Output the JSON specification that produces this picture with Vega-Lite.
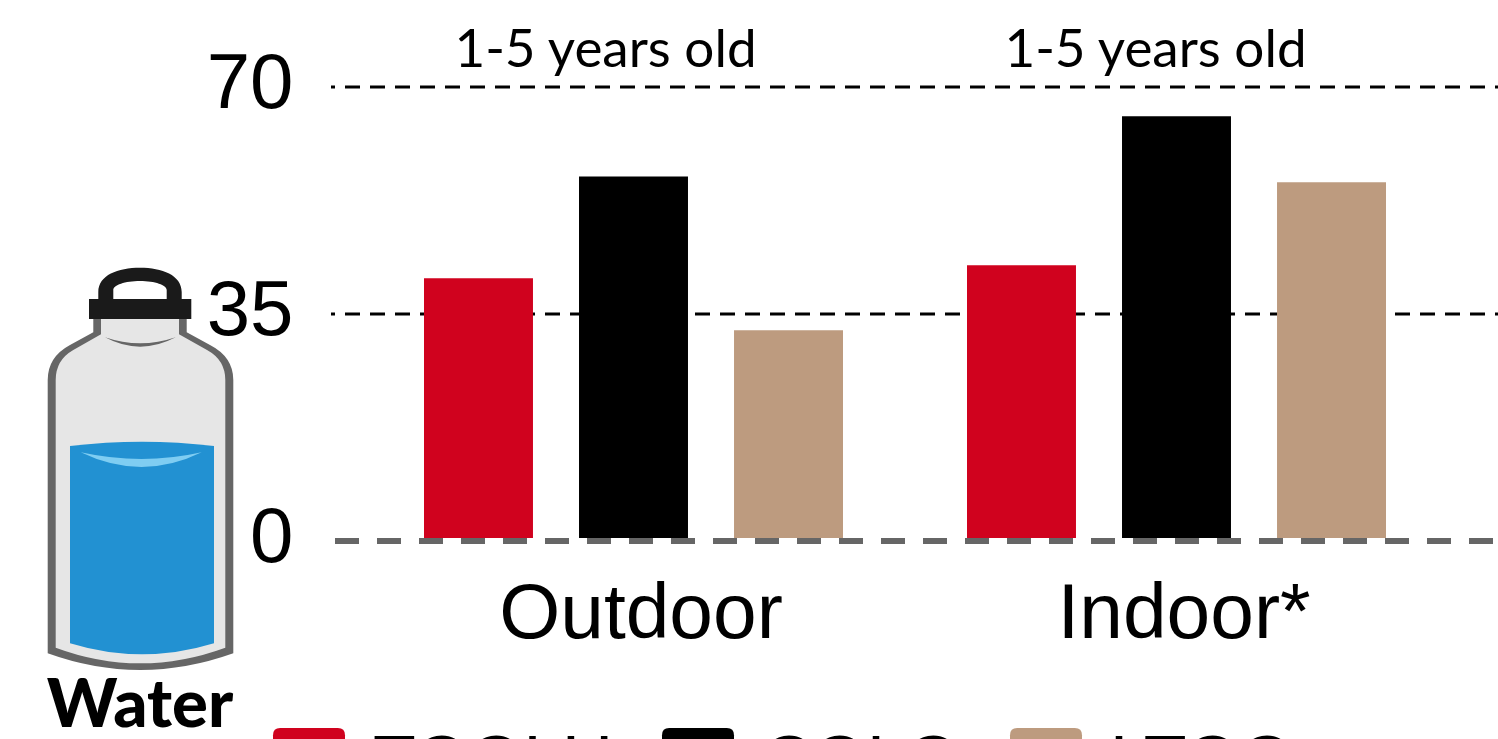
{
"$schema":"https://vega.github.io/schema/vega-lite/v6.json",
"width":1167,"height":454,
"padding":{"left":331,"top":87,"right":0,"bottom":198},
"autosize":{"type":"none"},
"background":"white",
"config":{"view":{"stroke":null}},
"datasets":{
"bars":[
{"setting":"Outdoor","group":"TOOLU","value":40.5},
{"setting":"Outdoor","group":"COLO","value":56.2},
{"setting":"Outdoor","group":"LTOO","value":32.5},
{"setting":"Indoor*","group":"TOOLU","value":42.5},
{"setting":"Indoor*","group":"COLO","value":65.5},
{"setting":"Indoor*","group":"LTOO","value":55.3}
],
"icon":[{"icon":"Water"}]
},
"layer":[
{"layer":[
{"data":{"values":[{"tick":35},{"tick":70}]},
"mark":{"type":"rule","color":"#000000","strokeWidth":3,"strokeDash":[15,10],"strokeDashOffset":12},
"encoding":{"y":{"field":"tick","type":"quantitative","title":null}}},
{"data":{"name":"bars"},
"mark":{"type":"bar","clip":false},
"encoding":{
"x":{"field":"setting","type":"nominal","sort":["Outdoor","Indoor*"],"title":null,
"scale":{"domain":["Outdoor","Indoor*"],"range":[31,1117],"paddingInner":0,"paddingOuter":0},
"axis":{"domain":false,"ticks":false,"grid":false,"labelAngle":0,"labelFont":"Liberation Sans","labelFontSize":78.5,"labelColor":"#000","labelPadding":34,"labelOffset":7.5,"labelLimit":500}},
"xOffset":{"field":"group","type":"nominal","sort":["TOOLU","COLO","LTOO"],
"scale":{"domain":["TOOLU","COLO","LTOO"],"range":[62,481],"paddingInner":0.297,"paddingOuter":0}},
"y":{"field":"value","type":"quantitative","title":null,
"scale":{"domain":[0,70],"nice":false},
"axis":{"values":[0,35,70],"domain":false,"ticks":false,"grid":false,
"labelFont":"Liberation Sans","labelFontSize":78,"labelColor":"#000","labelPadding":38,"labelOffset":-3}},
"y2":{"datum":0.46},
"color":{"field":"group","type":"nominal",
"scale":{"domain":["TOOLU","COLO","LTOO"],"range":["#D0021E","#000000","#BD9B7F"]},
"legend":{"title":null,"orient":"none","legendX":-58,"legendY":641,"direction":"horizontal","columns":3,
"symbolType":"M-0.8,-1H0.8Q1,-1 1,-0.8V0.8Q1,1 0.8,1H-0.8Q-1,1 -1,0.8V-0.8Q-1,-1 -0.8,-1Z",
"symbolSize":5184,"symbolStrokeWidth":0,"labelFont":"Liberation Sans","labelFontSize":70,"labelColor":"#000","labelOffset":28,"columnPadding":49,"labelLimit":500}}
}},
{"data":{"values":[{"line":"zero"}]},
"mark":{"type":"rule","color":"#666666","strokeWidth":6,"strokeDash":[24,18],"strokeDashOffset":37},
"encoding":{"y":{"datum":0}}},
{"data":{"values":[{"setting":"Outdoor","label":"1-5 years old"}]},
"mark":{"type":"text","font":"Lato","fontSize":53,"color":"#000","dx":-28,"baseline":"alphabetic"},
"encoding":{"x":{"field":"setting","type":"nominal","sort":["Outdoor","Indoor*"]},"y":{"datum":73.1},"text":{"field":"label"}}},
{"data":{"values":[{"setting":"Indoor*","label":"1-5 years old"}]},
"mark":{"type":"text","font":"Lato","fontSize":53,"color":"#000","dx":-21,"baseline":"alphabetic"},
"encoding":{"x":{"field":"setting","type":"nominal","sort":["Outdoor","Indoor*"]},"y":{"datum":73.1},"text":{"field":"label"}}}
]},
{"data":{"name":"icon"},
"encoding":{
"x":{"field":"icon","type":"nominal","scale":{"domain":["Water"],"range":[-191,-191]},"axis":null},
"y":{"field":"icon","type":"nominal","scale":{"domain":["Water"],"range":[383,383]},"axis":null}},
"layer":[
{"mark":{"type":"point","filled":true,"opacity":1,"size":4,"color":"#666666","strokeWidth":0,"clip":false,
"shape":"M-46.7,-151.7V-137.7L-70,-125Q-92.3,-113 -92.3,-90V183.3Q0,216.7 93.3,183.3V-90Q93.3,-113 70,-125L46.7,-137.7V-151.7Z"}},
{"mark":{"type":"point","filled":true,"opacity":1,"size":4,"color":"#E6E6E6","strokeWidth":0,"clip":false,
"shape":"M-39,-151.7V-135.7L-66.7,-120Q-84.3,-110 -84.3,-90V177.7Q0,209 85.3,177.7V-90Q85.3,-110 67,-120L39,-135.7V-151.7Z"}},
{"mark":{"type":"point","filled":true,"opacity":1,"size":4,"color":"#666666","strokeWidth":0,"clip":false,
"shape":"M-35,-132.7Q0,-113.9 35.7,-132.7Q0,-120.7 -35,-132.7Z"}},
{"mark":{"type":"point","filled":true,"opacity":1,"size":4,"color":"#2291D2","strokeWidth":0,"clip":false,
"shape":"M-70,-24Q2,-32.7 74,-24V173.3Q2,195.3 -70,173.3Z"}},
{"mark":{"type":"point","filled":true,"opacity":1,"size":4,"color":"#7FCDF2","strokeWidth":0,"clip":false,
"shape":"M-59.3,-17.7Q1.7,11.7 61.7,-17.7Q1.7,-4.3 -59.3,-17.7Z"}},
{"mark":{"type":"point","filled":true,"opacity":1,"size":4,"color":"#1A1A1A","strokeWidth":0,"clip":false,
"shape":"M-51,-171H-41.7V-178C-41.7,-195 -22,-202.3 0,-202.3C22,-202.3 41.7,-195 41.7,-178V-171H51.3V-151H-51ZM-26.7,-171H26.7V-180C26.7,-185 15,-189 0,-189C-15,-189 -26.7,-185 -26.7,-180Z"}},
{"mark":{"type":"text","font":"Lato","fontWeight":900,"fontSize":67,"color":"#000","dy":257,"baseline":"alphabetic"},
"encoding":{"text":{"field":"icon"}}}
]}
],
"resolve":{"scale":{"x":"independent","y":"independent"}}
}
